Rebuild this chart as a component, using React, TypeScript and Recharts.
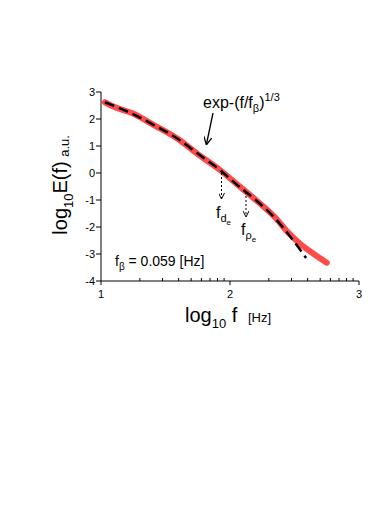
import { LineChart, Line, XAxis, YAxis } from "recharts";

// measured spectrum (log10 f, log10 E)
const measuredX = [1.03, 1.1, 1.24, 1.4, 1.6, 1.75, 1.92, 2.05, 2.2, 2.35, 2.45, 2.55, 2.65, 2.75];
const measuredY = [2.62, 2.45, 2.22, 1.8, 1.25, 0.7, 0.12, -0.4, -1.0, -1.65, -2.2, -2.65, -3.0, -3.32];

// stretched exponential fit
const fitX = [1.03, 1.24, 1.4, 1.6, 1.75, 1.92, 2.05, 2.2, 2.35, 2.45, 2.59];
const fitY = [2.62, 2.2, 1.8, 1.25, 0.72, 0.12, -0.42, -1.0, -1.68, -2.25, -3.15];

const xMajor = [1, 2, 3];
const xMinor = [10, 100].flatMap((d) => [2, 3, 4, 5, 6, 7, 8, 9].map((k) => Math.log10(k * d)));
const yTicks = [-4, -3, -2, -1, 0, 1, 2, 3];

const measured = measuredX.map((x, i) => ({ x, y: measuredY[i] }));
const fit = fitX.map((x, i) => ({ x, y: fitY[i] }));

const FONT = "'Liberation Sans', Arial, Helvetica, sans-serif";

function XTick(props: any) {
  const { x, y, payload } = props;
  const major = xMajor.includes(payload.value);
  if (!major) {
    return <line x1={x} x2={x} y1={y} y2={y - 3} stroke="#000" strokeWidth={1} />;
  }
  return (
    <g>
      <line x1={x} x2={x} y1={y} y2={y + 4} stroke="#000" strokeWidth={1} />
      <text x={x} y={y + 17} textAnchor="middle" fontSize={11} fontFamily={FONT} fill="#000">
        {payload.value}
      </text>
    </g>
  );
}

export default function App() {
  const ticks = [...xMajor, ...xMinor].sort((a, b) => a - b);
  return (
    <div style={{ position: "absolute", left: 0, top: 0, width: 390, height: 510, background: "#fff" }}>
      <LineChart
        width={390}
        height={510}
        margin={{ top: 92, right: 31, bottom: 199, left: 61 }}
      >
        <XAxis
          type="number"
          dataKey="x"
          domain={[1, 3]}
          ticks={ticks}
          interval={0}
          tickSize={0}
          tickMargin={0}
          tickLine={false}
          tick={<XTick />}
          height={30}
          stroke="#000"
          allowDataOverflow
        />
        <YAxis
          type="number"
          dataKey="y"
          domain={[-4, 3]}
          ticks={yTicks}
          interval={0}
          width={40}
          tickSize={5}
          tickMargin={1}
          stroke="#000"
          tick={{ fill: "#000", fontSize: 11, fontFamily: FONT }}
        />
        <Line
          data={measured}
          dataKey="y"
          type="monotone"
          stroke="#ff4a4a"
          strokeWidth={6}
          strokeLinecap="round"
          dot={false}
          isAnimationActive={false}
        />
        <Line
          data={fit}
          dataKey="y"
          type="monotone"
          stroke="#000"
          strokeWidth={2.5}
          strokeDasharray="10 5"
          dot={false}
          isAnimationActive={false}
        />
      </LineChart>
      <svg
        width={390}
        height={510}
        style={{ position: "absolute", left: 0, top: 0, pointerEvents: "none" }}
        fontFamily={FONT}
      >
        <defs>
          <marker id="solidHead" markerWidth="8" markerHeight="8" refX="7" refY="4" orient="auto" markerUnits="userSpaceOnUse">
            <path d="M0,0 L8,4 L0,8" fill="none" stroke="#000" strokeWidth={1.3} />
          </marker>
          <marker id="smallHead" markerWidth="6" markerHeight="6" refX="5" refY="3" orient="auto" markerUnits="userSpaceOnUse">
            <path d="M0,0 L6,3 L0,6" fill="none" stroke="#000" strokeWidth={1} />
          </marker>
        </defs>

        {/* y label */}
        <text transform="translate(67,198) rotate(-90)" textAnchor="middle" fontSize={20} fill="#000">
          log<tspan fontSize={13} dy={6}>10</tspan>
          <tspan dy={-6}>E(f)</tspan>
        </text>
        <text transform="translate(69,146) rotate(-90)" textAnchor="middle" fontSize={13} fill="#000">
          a.u.
        </text>

        {/* x label */}
        <text x={185} y={322} fontSize={20} fill="#000">
          log<tspan fontSize={13} dy={6}>10</tspan>
          <tspan dy={-6}> f</tspan>
        </text>
        <text x={248} y={322} fontSize={13} fill="#000">
          [Hz]
        </text>

        {/* fit annotation */}
        <text x={203} y={108} fontSize={16} fill="#000">
          exp-(f/f<tspan fontSize={11} dy={4}>β</tspan>
          <tspan dy={-4}>)</tspan>
          <tspan fontSize={11} dy={-7}>1/3</tspan>
        </text>
        <line x1={213} y1={113} x2={206.5} y2={144} stroke="#000" strokeWidth={1.3} markerEnd="url(#solidHead)" />

        {/* characteristic frequencies */}
        <line x1={221.5} y1={173} x2={221.5} y2={198} stroke="#000" strokeWidth={1} strokeDasharray="2 2" markerEnd="url(#smallHead)" />
        <text x={216} y={218} fontSize={16} fill="#000">
          f<tspan fontSize={11} dy={4}>d</tspan>
          <tspan fontSize={8} dy={3}>e</tspan>
        </text>
        <line x1={246} y1={192} x2={246} y2={216} stroke="#000" strokeWidth={1} strokeDasharray="2 2" markerEnd="url(#smallHead)" />
        <text x={241} y={235} fontSize={16} fill="#000">
          f<tspan fontSize={11} dy={4}>ρ</tspan>
          <tspan fontSize={8} dy={3}>e</tspan>
        </text>

        {/* beta frequency */}
        <text x={115} y={266} fontSize={14} fill="#000">
          f<tspan fontSize={10} dy={4}>β</tspan>
          <tspan dy={-4}> = 0.059 [Hz]</tspan>
        </text>
      </svg>
    </div>
  );
}
